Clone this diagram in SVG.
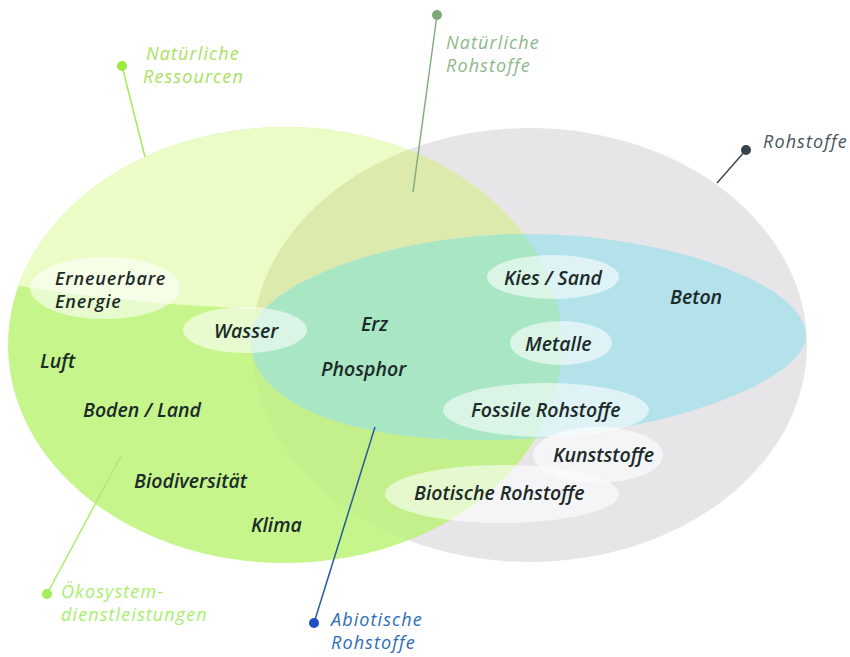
<svg xmlns="http://www.w3.org/2000/svg" width="850" height="657" viewBox="0 0 850 657">
<style>
.lbl{font-family:"Open Sans","Noto Sans","Liberation Sans",sans-serif;font-style:italic;font-weight:600;font-size:19.5px;fill:#1c2a2a}
.lbl2{font-size:18px;letter-spacing:0.8px}
.out{font-family:"Open Sans","Noto Sans","Liberation Sans",sans-serif;font-style:italic;font-weight:400;font-size:18px;letter-spacing:1.1px}
.bub{fill:#ffffff;fill-opacity:0.58}
</style>
<defs>
<clipPath id="cGreen"><ellipse cx="285" cy="345" rx="277" ry="218"/></clipPath>
<clipPath id="cPale"><ellipse cx="330" cy="143" rx="600" ry="167"/></clipPath>
<path id="blueShape" d="M250,338 C250,290 380,234 530,234 C660,234 806,282 806,336 C806,380 660,440 480,440 C340,440 250,400 250,338 Z"/>
</defs>
<rect width="850" height="657" fill="#ffffff"/>
<g id="rohstoffe">
<ellipse cx="529.5" cy="345" rx="277.5" ry="217" fill="#e8e5e9"/>
</g>
<g id="oekosystemdienstleistungen">
<ellipse cx="285" cy="345" rx="277" ry="218" fill="#c6f68b"/>
<g clip-path="url(#cGreen)"><ellipse cx="529.5" cy="345" rx="277.5" ry="217" fill="#c3f08a"/></g>
</g>
<g id="natuerliche-ressourcen" clip-path="url(#cGreen)">
<ellipse cx="330" cy="143" rx="600" ry="167" fill="#ecfcc6"/>
</g>
<g id="natuerliche-rohstoffe" clip-path="url(#cGreen)">
<g clip-path="url(#cPale)"><ellipse cx="529.5" cy="345" rx="277.5" ry="217" fill="#dceaae"/></g>
</g>
<g id="abiotische-rohstoffe">
<use href="#blueShape" fill="#b4e2ea"/>
<g clip-path="url(#cGreen)"><use href="#blueShape" fill="#a8e6c4"/></g>
</g>
<g id="connectors" stroke-width="1.5" fill="none">
<line x1="122" y1="66" x2="145" y2="157" stroke="#a8e85a"/>
<line x1="437" y1="15" x2="413" y2="192" stroke="#84ad7f"/>
<line x1="746" y1="150" x2="717" y2="183" stroke="#3d4a52"/>
<line x1="47" y1="594" x2="121" y2="456" stroke="#a9ee6c"/>
<line x1="314" y1="623" x2="375" y2="427" stroke="#2a5a9a"/>
<circle cx="122" cy="66" r="5" fill="#9de83e" stroke="none"/>
<circle cx="437" cy="15" r="5" fill="#7ea879" stroke="none"/>
<circle cx="746" cy="150" r="5" fill="#36424c" stroke="none"/>
<circle cx="47" cy="594" r="5" fill="#a3ec5a" stroke="none"/>
<circle cx="314" cy="623" r="5" fill="#1c4fc0" stroke="none"/>
</g>
<g id="label-natuerliche-ressourcen"><text class="out" fill="#a8e25e"><tspan x="146" y="60">Natürliche</tspan><tspan x="143" y="83">Ressourcen</tspan></text></g>
<g id="label-natuerliche-rohstoffe"><text class="out" fill="#8db889"><tspan x="446" y="49">Natürliche</tspan><tspan x="446" y="72">Rohstoffe</tspan></text></g>
<g id="label-rohstoffe"><text class="out" fill="#48545e" x="763" y="148">Rohstoffe</text></g>
<g id="label-oekosystem"><text class="out" fill="#a8ee6e"><tspan x="61" y="598">Ökosystem-</tspan><tspan x="61" y="621">dienstleistungen</tspan></text></g>
<g id="label-abiotische"><text class="out" fill="#2d6cb6"><tspan x="331" y="626">Abiotische</tspan><tspan x="331" y="649">Rohstoffe</tspan></text></g>
<g id="erneuerbare-energie"><ellipse class="bub" cx="105" cy="288" rx="75" ry="31"/><text class="lbl lbl2"><tspan x="55" y="285">Erneuerbare</tspan><tspan x="55" y="308">Energie</tspan></text></g>
<g id="wasser"><ellipse class="bub" cx="245" cy="330" rx="62" ry="23"/><text class="lbl" x="214" y="338">Wasser</text></g>
<g id="kies-sand"><ellipse class="bub" cx="553" cy="277" rx="66" ry="22"/><text class="lbl" x="504" y="285">Kies / Sand</text></g>
<g id="metalle"><ellipse class="bub" cx="561" cy="343" rx="51" ry="22"/><text class="lbl" x="525" y="351">Metalle</text></g>
<g id="fossile-rohstoffe"><ellipse class="bub" cx="546" cy="410" rx="103" ry="27"/><text class="lbl" x="471" y="417">Fossile Rohstoffe</text></g>
<g id="kunststoffe"><ellipse class="bub" cx="598" cy="455" rx="65" ry="28"/><text class="lbl" x="553" y="462">Kunststoffe</text></g>
<g id="biotische-rohstoffe"><ellipse class="bub" cx="502" cy="494" rx="117" ry="29"/><text class="lbl" x="414" y="500">Biotische Rohstoffe</text></g>
<g id="luft"><text class="lbl" x="40" y="368">Luft</text></g>
<g id="boden-land"><text class="lbl" x="83" y="417">Boden / Land</text></g>
<g id="biodiversitaet"><text class="lbl" x="134" y="488">Biodiversität</text></g>
<g id="klima"><text class="lbl" x="251" y="532">Klima</text></g>
<g id="erz"><text class="lbl" x="361" y="331">Erz</text></g>
<g id="phosphor"><text class="lbl" x="321" y="376">Phosphor</text></g>
<g id="beton"><text class="lbl" x="670" y="304">Beton</text></g>
</svg>
